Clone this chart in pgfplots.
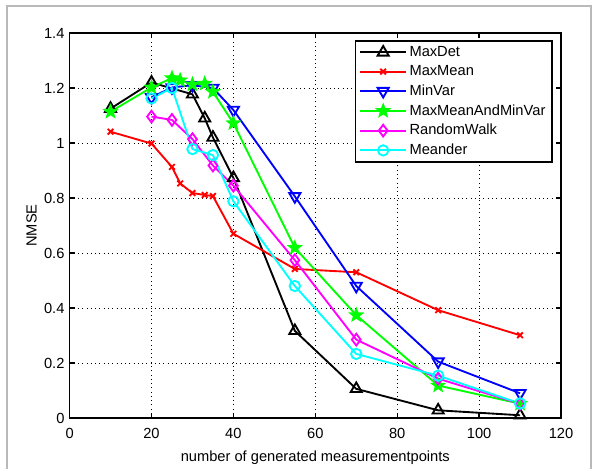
\documentclass[border=0pt]{standalone}
\usepackage{fontspec}
\setmainfont{Liberation Sans}
\usepackage{pgfplots}
\pgfplotsset{compat=1.18}
\usetikzlibrary{plotmarks}

\definecolor{mred}{rgb}{1,0,0}
\definecolor{mblue}{rgb}{0,0,1}
\definecolor{mgreen}{rgb}{0,1,0}
\definecolor{mmagenta}{rgb}{1,0,1}
\definecolor{mcyan}{rgb}{0,1,1}

\pgfdeclareplotmark{pstar}{%
  \pgfpathmoveto{\pgfpointpolar{90}{\pgfplotmarksize}}%
  \pgfpathlineto{\pgfpointpolar{126}{0.42\pgfplotmarksize}}%
  \pgfpathlineto{\pgfpointpolar{162}{\pgfplotmarksize}}%
  \pgfpathlineto{\pgfpointpolar{198}{0.42\pgfplotmarksize}}%
  \pgfpathlineto{\pgfpointpolar{234}{\pgfplotmarksize}}%
  \pgfpathlineto{\pgfpointpolar{270}{0.42\pgfplotmarksize}}%
  \pgfpathlineto{\pgfpointpolar{306}{\pgfplotmarksize}}%
  \pgfpathlineto{\pgfpointpolar{342}{0.42\pgfplotmarksize}}%
  \pgfpathlineto{\pgfpointpolar{18}{\pgfplotmarksize}}%
  \pgfpathlineto{\pgfpointpolar{54}{0.42\pgfplotmarksize}}%
  \pgfpathclose
  \pgfusepathqfillstroke}

\begin{document}
\fontsize{11}{13}\selectfont
\begin{tikzpicture}
\useasboundingbox (0,0) rectangle (447pt,351.75pt);
\draw[gray!55, line width=0.9pt] (5.25pt,0) -- (5.25pt,347.25pt) -- (443.25pt,347.25pt) -- (443.25pt,0);
\begin{axis}[
  at={(52.2pt,38.25pt)}, anchor=south west,
  scale only axis, width=368.55pt, height=288.75pt,
  xmin=0, xmax=120, ymin=0, ymax=1.4,
  xtick={0,20,40,60,80,100,120},
  ytick={0,0.2,0.4,0.6,0.8,1,1.2,1.4},
  yticklabels={0,0.2,0.4,0.6,0.8,1,1.2,1.4},
  /pgf/number format/assume math mode=true,
  tick label style={font=\fontsize{11}{13}\selectfont},
  xticklabel style={yshift=-3.5pt},
  label style={font=\fontsize{11}{13}\selectfont},
  tick align=inside, tick pos=both,
  major tick length=4pt,
  every tick/.style={black, line width=1pt},
  axis line style={line width=1.3pt},
  grid=major,
  major grid style={black, line width=0.6pt, dash pattern=on 0.6pt off 2.6pt},
  xlabel={number of generated measurementpoints},
  ylabel={NMSE},
  xlabel style={yshift=-2pt},
  ylabel style={yshift=-2pt},
  every axis plot/.append style={line width=1.4pt, mark options={solid}},
  legend cell align=left,
  legend style={at={(rel axis cs:1,1)}, anchor=north east, xshift=-6pt, yshift=-5.25pt,
    draw=black, line width=1.4pt, font=\fontsize{11}{13}\selectfont,
    inner xsep=3pt, inner ysep=2pt, row sep=1.2pt},
  legend image code/.code={%
    \draw[mark repeat=2, mark phase=2] plot coordinates {(0cm,0cm) (0.6cm,0cm) (1.2cm,0cm)};},
]
\addplot[black, mark=triangle, mark size=4.8pt] coordinates {
 (10,1.125) (20,1.22) (30,1.177) (33,1.09) (35,1.02) (40,0.873) (55,0.317) (70,0.106) (90,0.028) (110,0.01)};
\addlegendentry{MaxDet}
\addplot[mred, mark=x, mark size=3pt] coordinates {
 (10,1.041) (20,0.998) (25,0.913) (27,0.853) (30,0.818) (33,0.811) (35,0.807) (40,0.670) (55,0.542) (70,0.530) (90,0.392) (110,0.301)};
\addlegendentry{MaxMean}
\addplot[mblue, mark=triangle, mark size=4.8pt, mark options={rotate=180}] coordinates {
 (20,1.166) (25,1.202) (30,1.21) (35,1.20) (40,1.12) (55,0.806) (70,0.48) (90,0.205) (110,0.09)};
\addlegendentry{MinVar}
\addplot[mgreen, mark=pstar, mark size=4.4pt, mark options={fill=mgreen}] coordinates {
 (10,1.114) (20,1.202) (25,1.236) (27,1.228) (30,1.213) (33,1.216) (35,1.186) (40,1.072) (55,0.619) (70,0.374) (90,0.118) (110,0.052)};
\addlegendentry{MaxMeanAndMinVar}
\addplot[mmagenta, mark=diamond, mark size=4.4pt] coordinates {
 (20,1.096) (25,1.084) (30,1.014) (35,0.918) (40,0.845) (55,0.574) (70,0.285) (90,0.143) (110,0.052)};
\addlegendentry{RandomWalk}
\addplot[mcyan, mark=o, mark size=3.9pt] coordinates {
 (20,1.162) (25,1.200) (30,0.978) (35,0.956) (40,0.788) (55,0.480) (70,0.233) (90,0.154) (110,0.053)};
\addlegendentry{Meander}
\end{axis}
\end{tikzpicture}
\end{document}
